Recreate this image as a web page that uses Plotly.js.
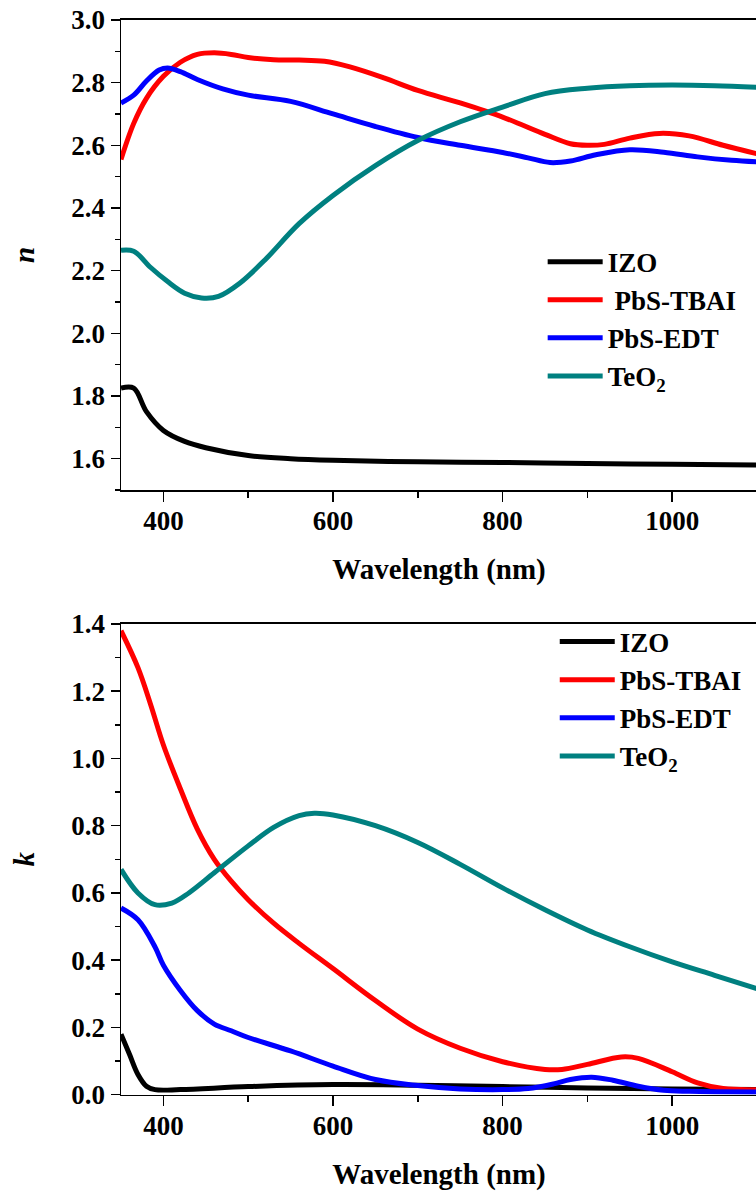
<!DOCTYPE html>
<html>
<head>
<meta charset="utf-8">
<script src="https://cdn.plot.ly/plotly-3.0.1.min.js"></script>
<style>
html, body { margin: 0; padding: 0; overflow: hidden; background: #fff; }
#wrap { width: 756px; height: 1194px; overflow: hidden; position: relative; }
#chart { width: 800px; height: 1194px; }
</style>
</head>
<body>
<div id="wrap"><div id="chart"></div></div>
<script>
// ---------- refractive index n ----------
const izoN_x = [350, 365, 380, 400, 425, 450, 500, 550, 600, 700, 800, 900, 1000, 1100];
const izoN_y = [1.825, 1.825, 1.75, 1.69, 1.655, 1.635, 1.61, 1.60, 1.595, 1.59, 1.588, 1.585, 1.582, 1.58];

const tbaiN_x = [350, 365, 380, 400, 420, 440, 460, 480, 500, 530, 560, 590, 620, 660, 700, 750, 800, 850, 880, 900, 920, 950, 985, 1020, 1060, 1100];
const tbaiN_y = [2.555, 2.67, 2.75, 2.82, 2.865, 2.89, 2.895, 2.89, 2.88, 2.873, 2.872, 2.868, 2.85, 2.815, 2.775, 2.735, 2.69, 2.635, 2.605, 2.60, 2.603, 2.623, 2.638, 2.63, 2.60, 2.573];

const edtN_x = [350, 365, 380, 395, 405, 420, 440, 470, 500, 550, 600, 650, 700, 750, 800, 830, 856, 880, 910, 950, 990, 1030, 1070, 1100];
const edtN_y = [2.735, 2.76, 2.805, 2.84, 2.847, 2.835, 2.81, 2.78, 2.76, 2.74, 2.70, 2.66, 2.625, 2.60, 2.577, 2.56, 2.545, 2.55, 2.57, 2.586, 2.578, 2.563, 2.552, 2.547];

const teoN_x = [350, 365, 385, 405, 425, 445, 465, 490, 520, 560, 600, 650, 700, 750, 800, 850, 900, 950, 1000, 1050, 1100];
const teoN_y = [2.265, 2.262, 2.21, 2.165, 2.128, 2.113, 2.118, 2.16, 2.235, 2.35, 2.44, 2.535, 2.615, 2.675, 2.722, 2.765, 2.782, 2.79, 2.792, 2.79, 2.785];

// ---------- extinction coefficient k ----------
const izoK_x = [350, 360, 370, 380, 390, 420, 500, 600, 700, 800, 900, 1000, 1100];
const izoK_y = [0.18, 0.12, 0.06, 0.025, 0.015, 0.015, 0.024, 0.03, 0.028, 0.024, 0.02, 0.017, 0.015];

const tbaiK_x = [350, 370, 385, 400, 420, 440, 460, 480, 500, 530, 560, 600, 650, 700, 750, 800, 850, 870, 900, 940, 960, 1000, 1030, 1060, 1100];
const tbaiK_y = [1.38, 1.27, 1.16, 1.04, 0.91, 0.79, 0.70, 0.635, 0.58, 0.51, 0.45, 0.375, 0.28, 0.195, 0.138, 0.098, 0.075, 0.075, 0.09, 0.112, 0.108, 0.068, 0.035, 0.018, 0.015];

const edtK_x = [350, 370, 390, 400, 420, 440, 460, 480, 500, 550, 600, 650, 700, 750, 800, 830, 860, 880, 905, 930, 960, 990, 1020, 1100];
const edtK_y = [0.555, 0.52, 0.44, 0.385, 0.31, 0.25, 0.21, 0.19, 0.17, 0.13, 0.085, 0.045, 0.027, 0.017, 0.015, 0.018, 0.032, 0.045, 0.052, 0.043, 0.025, 0.013, 0.01, 0.008];

const teoK_x = [350, 370, 390, 410, 430, 460, 500, 530, 560, 578, 600, 650, 700, 750, 800, 850, 900, 950, 1000, 1050, 1100];
const teoK_y = [0.67, 0.60, 0.565, 0.57, 0.60, 0.66, 0.74, 0.795, 0.83, 0.837, 0.832, 0.80, 0.75, 0.685, 0.615, 0.55, 0.49, 0.44, 0.395, 0.355, 0.315];

const seriesNames = ['IZO', 'PbS-TBAI', 'PbS-EDT', 'TeO<sub>2</sub>'];
const topNames = ['IZO', ' PbS-TBAI', 'PbS-EDT', 'TeO<sub>2</sub>'];
const colors = ['#000000', '#ff0000', '#0000ff', '#008080'];
const xTicks = [400, 600, 800, 1000];

const FONT = 'Liberation Serif, Times New Roman, serif';

function mk(x, y, i, name, xa, ya, leg) {
  return {
    x: x, y: y, type: 'scatter', mode: 'lines', name: name,
    line: {color: colors[i], width: 5, shape: 'spline', smoothing: 1},
    xaxis: xa, yaxis: ya, legend: leg, legendgroup: leg + i
  };
}

const data = [
  mk(izoN_x, izoN_y, 0, topNames[0], 'x', 'y', 'legend'),
  mk(tbaiN_x, tbaiN_y, 1, topNames[1], 'x', 'y', 'legend'),
  mk(edtN_x, edtN_y, 2, topNames[2], 'x', 'y', 'legend'),
  mk(teoN_x, teoN_y, 3, topNames[3], 'x', 'y', 'legend'),
  mk(izoK_x, izoK_y, 0, seriesNames[0], 'x2', 'y2', 'legend2'),
  mk(tbaiK_x, tbaiK_y, 1, seriesNames[1], 'x2', 'y2', 'legend2'),
  mk(edtK_x, edtK_y, 2, seriesNames[2], 'x2', 'y2', 'legend2'),
  mk(teoK_x, teoK_y, 3, seriesNames[3], 'x2', 'y2', 'legend2')
];

const tickFont = {family: FONT, size: 27, color: '#000', weight: 'bold'};
const titleFont = {family: FONT, size: 29, color: '#000', weight: 'bold'};

function xAxis(anchor) {
  return {
    anchor: anchor, domain: [0, 1], range: [350, 1100],
    tickvals: xTicks, ticktext: xTicks.map(String),
    ticks: 'outside', ticklen: 10, tickwidth: 1.5, tickcolor: '#000',
    minor: {dtick: 100, tick0: 0, ticks: 'outside', ticklen: 6, tickwidth: 1.5, tickcolor: '#000'},
    showline: true, linecolor: '#000', linewidth: 1.5, mirror: true,
    showgrid: false, zeroline: false,
    tickfont: tickFont, ticklabelstandoff: -4,
    title: {text: 'Wavelength (nm)', font: titleFont, standoff: 24}
  };
}

function yAxis(anchor, domain, range, dtick, title) {
  return {
    anchor: anchor, domain: domain, range: range,
    dtick: dtick, tick0: 0, tickformat: '.1f',
    ticks: 'outside', ticklen: 9, tickwidth: 1.5, tickcolor: '#000',
    minor: {dtick: dtick / 2, ticks: 'outside', ticklen: 5, tickwidth: 1.5, tickcolor: '#000'},
    showline: true, linecolor: '#000', linewidth: 1.5, mirror: true,
    showgrid: false, zeroline: false,
    tickfont: tickFont, ticklabelstandoff: 0,
    title: {text: title, font: {family: FONT, size: 29, color: '#000', weight: 'bold', style: 'italic'}, standoff: 28}
  };
}

const legendFont = {family: FONT, size: 27, color: '#000', weight: 'bold'};

const layout = {
  width: 800, height: 1194,
  margin: {l: 121, r: 43, t: 0, b: 0},
  paper_bgcolor: '#ffffff', plot_bgcolor: '#ffffff',
  showlegend: true,
  xaxis: xAxis('y'),
  yaxis: yAxis('x', [0.5896, 0.9833], [1.5, 3.0], 0.2, 'n'),
  xaxis2: xAxis('y2'),
  yaxis2: yAxis('x2', [0.0832, 0.4774], [0, 1.4], 0.2, 'k'),
  legend: {x: 0.663, y: 0.801, xanchor: 'left', yanchor: 'top', bgcolor: 'rgba(0,0,0,0)',
           font: legendFont, tracegroupgap: 1, itemwidth: 55, traceorder: 'normal'},
  legend2: {x: 0.682, y: 0.4828, xanchor: 'left', yanchor: 'top', bgcolor: 'rgba(0,0,0,0)',
           font: legendFont, tracegroupgap: 3, itemwidth: 55, traceorder: 'normal'}
};

Plotly.newPlot('chart', data, layout, {displayModeBar: false, staticPlot: true});
</script>
</body>
</html>
